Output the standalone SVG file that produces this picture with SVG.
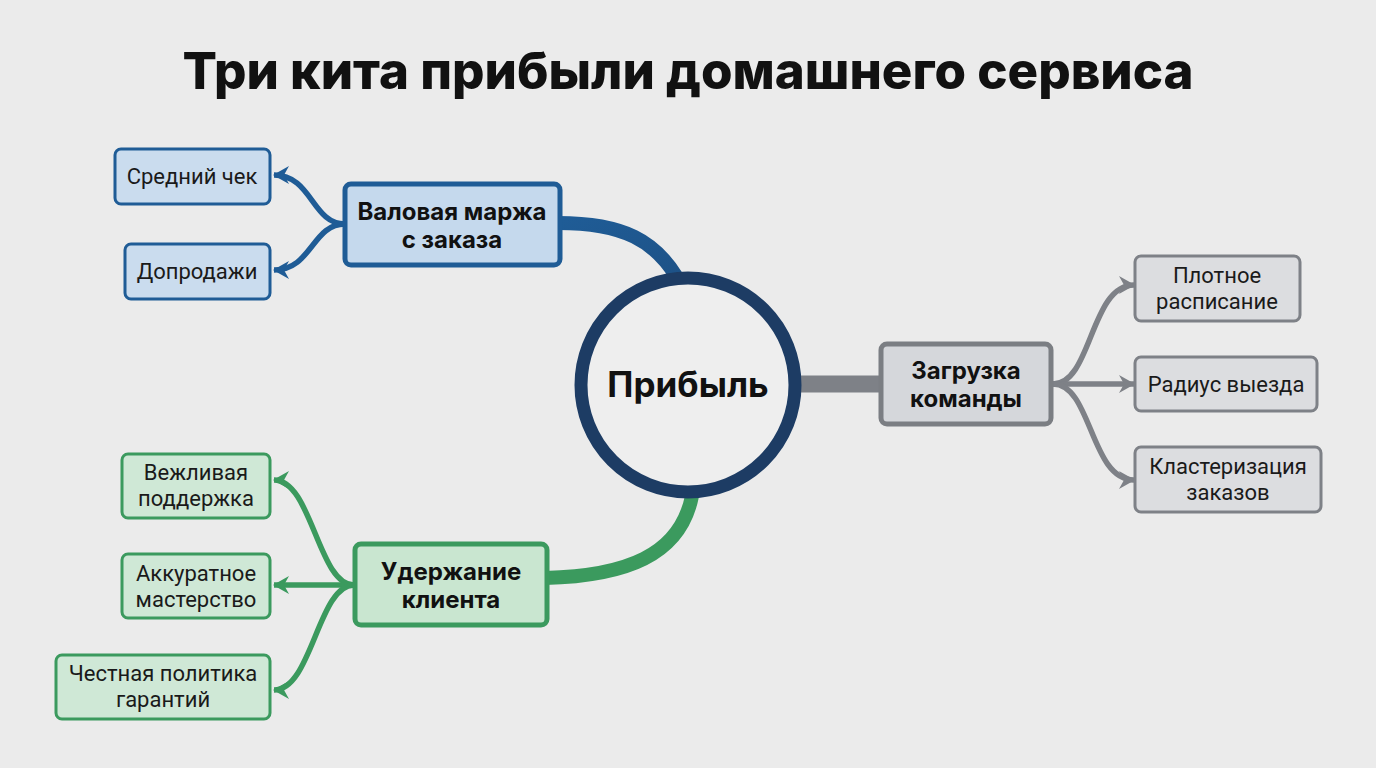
<svg xmlns="http://www.w3.org/2000/svg" width="1376" height="768" viewBox="0 0 1376 768">
<defs>
<style>
.title{font-family:Inter,"Liberation Sans",sans-serif;font-weight:800;font-size:51px;fill:#111}
.hub{font-family:Inter,"Liberation Sans",sans-serif;font-weight:700;font-size:35px;fill:#111}
.mid{font-family:Inter,"Liberation Sans",sans-serif;font-weight:700;font-size:24px;fill:#111}
.leaf{font-family:Roboto,"Liberation Sans",sans-serif;font-size:22px;fill:#1a1a1a}
.bmid{fill:#c5d9ed;stroke:#1f5c96;stroke-width:5}
.bleaf{fill:#cadcee;stroke:#1f5c96;stroke-width:3}
.gmid{fill:#c9e6d0;stroke:#3b9a5e;stroke-width:5}
.gleaf{fill:#cfe8d6;stroke:#3b9a5e;stroke-width:3}
.ymid{fill:#d5d7db;stroke:#7b7e83;stroke-width:5}
.yleaf{fill:#dcdde0;stroke:#7e8187;stroke-width:3}
.cb{fill:none;stroke:#1f5c96;stroke-width:5.5}
.cg{fill:none;stroke:#3b9a5e;stroke-width:5.5}
.cy{fill:none;stroke:#7e8187;stroke-width:5.5}
</style>
<marker id="ab" markerUnits="userSpaceOnUse" markerWidth="20" markerHeight="22" refX="15" refY="10" orient="auto" viewBox="0 0 20 20"><path d="M0,1 L16,10 L0,19 L5,10 Z" fill="#1f5c96"/></marker>
<marker id="ag" markerUnits="userSpaceOnUse" markerWidth="20" markerHeight="22" refX="15" refY="10" orient="auto" viewBox="0 0 20 20"><path d="M0,1 L16,10 L0,19 L5,10 Z" fill="#3b9a5e"/></marker>
<marker id="ay" markerUnits="userSpaceOnUse" markerWidth="20" markerHeight="22" refX="15" refY="10" orient="auto" viewBox="0 0 20 20"><path d="M0,1 L16,10 L0,19 L5,10 Z" fill="#7e8187"/></marker>
<linearGradient id="gb" x1="0" y1="0" x2="1" y2="1"><stop offset="0" stop-color="#1f5c96"/><stop offset="1" stop-color="#1d5287"/></linearGradient>
</defs>
<rect width="1376" height="768" fill="#ebebeb"/>
<text class="title" x="688" y="89" text-anchor="middle">Три кита прибыли домашнего сервиса</text>

<g id="connectors">
<path d="M558,223 C625,223 655,242 676,276" fill="none" stroke="url(#gb)" stroke-width="14"/>
<path d="M545,578 C625,576 680,556 692,496" fill="none" stroke="#3b9a5e" stroke-width="14"/>
<path d="M798,384 L882,384" fill="none" stroke="#7e8187" stroke-width="17"/>
<path class="cb" d="M345,224 C312,224 312,175 274,175" marker-end="url(#ab)"/>
<path class="cb" d="M345,224 C312,224 312,270 274,270" marker-end="url(#ab)"/>
<path class="cg" d="M354,585 C318,585 312,480 274,480" marker-end="url(#ag)"/>
<path class="cg" d="M354,585 L274,585" marker-end="url(#ag)"/>
<path class="cg" d="M354,585 C318,585 312,690 274,690" marker-end="url(#ag)"/>
<path class="cy" d="M1053,384 C1092,384 1090,285 1134,285" marker-end="url(#ay)"/>
<path class="cy" d="M1053,384 L1134,384" marker-end="url(#ay)"/>
<path class="cy" d="M1053,384 C1092,384 1090,480 1134,480" marker-end="url(#ay)"/>
</g>

<g id="hub">
<circle cx="688" cy="385" r="107" fill="#eeeeee" stroke="#1d3c64" stroke-width="13"/>
<text class="hub" x="688" y="397" text-anchor="middle">Прибыль</text>
</g>

<g id="margin">
<rect class="bmid" x="345" y="184" width="215" height="81" rx="6"/>
<text class="mid" x="452" y="220" text-anchor="middle">Валовая маржа</text>
<text class="mid" x="452" y="248" text-anchor="middle">с заказа</text>
</g>
<g id="avgcheck">
<rect class="bleaf" x="115" y="149" width="155" height="55" rx="6"/>
<text class="leaf" x="192" y="184" text-anchor="middle">Средний чек</text>
</g>
<g id="upsell">
<rect class="bleaf" x="125" y="244" width="145" height="55" rx="6"/>
<text class="leaf" x="197" y="279" text-anchor="middle">Допродажи</text>
</g>

<g id="retention">
<rect class="gmid" x="355" y="544" width="192" height="81" rx="6"/>
<text class="mid" x="451" y="580" text-anchor="middle">Удержание</text>
<text class="mid" x="451" y="608" text-anchor="middle">клиента</text>
</g>
<g id="polite">
<rect class="gleaf" x="122" y="454" width="148" height="64" rx="6"/>
<text class="leaf" x="196" y="480" text-anchor="middle">Вежливая</text>
<text class="leaf" x="196" y="506" text-anchor="middle">поддержка</text>
</g>
<g id="craft">
<rect class="gleaf" x="122" y="554" width="148" height="64" rx="6"/>
<text class="leaf" x="196" y="581" text-anchor="middle">Аккуратное</text>
<text class="leaf" x="196" y="607" text-anchor="middle">мастерство</text>
</g>
<g id="warranty">
<rect class="gleaf" x="56" y="655" width="214" height="64" rx="6"/>
<text class="leaf" x="163" y="681" text-anchor="middle">Честная политика</text>
<text class="leaf" x="163" y="707" text-anchor="middle">гарантий</text>
</g>

<g id="load">
<rect class="ymid" x="881" y="344" width="170" height="80" rx="6"/>
<text class="mid" x="966" y="379" text-anchor="middle">Загрузка</text>
<text class="mid" x="966" y="407" text-anchor="middle">команды</text>
</g>
<g id="schedule">
<rect class="yleaf" x="1135" y="256" width="165" height="65" rx="6"/>
<text class="leaf" x="1217" y="283" text-anchor="middle">Плотное</text>
<text class="leaf" x="1217" y="309" text-anchor="middle">расписание</text>
</g>
<g id="radius">
<rect class="yleaf" x="1135" y="357" width="182" height="54" rx="6"/>
<text class="leaf" x="1226" y="392" text-anchor="middle">Радиус выезда</text>
</g>
<g id="cluster">
<rect class="yleaf" x="1135" y="447" width="186" height="65" rx="6"/>
<text class="leaf" x="1228" y="474" text-anchor="middle">Кластеризация</text>
<text class="leaf" x="1228" y="500" text-anchor="middle">заказов</text>
</g>
</svg>
